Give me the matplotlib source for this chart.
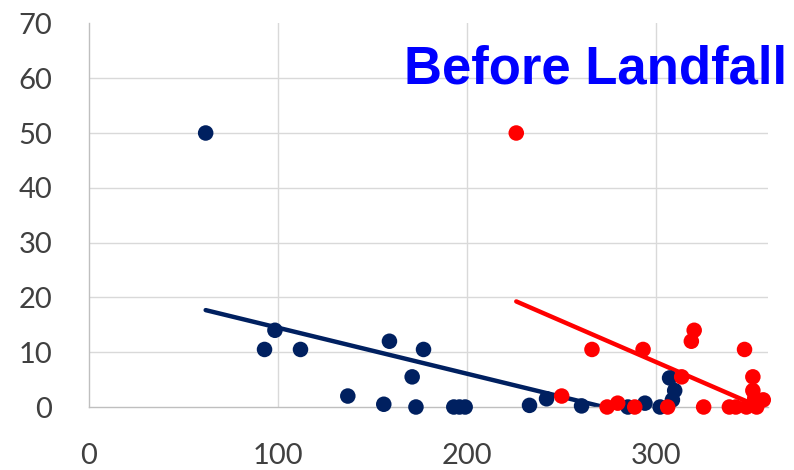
import numpy as np
import matplotlib
matplotlib.use("Agg")
import matplotlib.pyplot as plt

# Distance (x) vs. value (y) for the two groups of stations
navy_x = [61.9, 93, 98.5, 112, 137, 156, 159, 171, 173, 177, 193, 196, 199,
          233, 242, 260.5, 285, 294, 302, 307, 309.7, 308.5]
navy_y = [50, 10.5, 14, 10.5, 2, 0.5, 12, 5.5, 0, 10.5, 0, 0, 0,
          0.3, 1.5, 0.2, 0, 0.7, 0, 5.3, 3, 1.3]

red_x = [226, 250, 266, 274, 279.6, 288.6, 293, 306, 313.4, 318.5, 320, 325,
         338.6, 342, 346.6, 347.6, 351, 351, 352, 353, 356.5]
red_y = [50, 2, 10.5, 0, 0.7, 0, 10.5, 0, 5.5, 12, 14, 0,
         0, 0, 10.5, 0, 5.5, 3, 1.6, 0, 1.3]

x_ticks = [0, 100, 200, 300]
y_ticks = [0, 10, 20, 30, 40, 50, 60, 70]
title_text = "Before Landfall"

NAVY = "#002060"
RED = "#FF0000"

fig = plt.figure(figsize=(7.94, 4.70), dpi=100)
ax = fig.add_axes([88.5 / 794, 1 - 407 / 470, (768 - 88.5) / 794, (407 - 23.4) / 470])

for xs, ys, col in ((navy_x, navy_y, NAVY), (red_x, red_y, RED)):
    xs = np.asarray(xs, float)
    ys = np.asarray(ys, float)
    ax.scatter(xs, ys, s=125, color=col, edgecolors="none", zorder=3, clip_on=False)
    # linear trendline across the range of the data
    slope, icpt = np.polyfit(xs, ys, 1)
    tx = np.array([xs.min(), xs.max()])
    ax.plot(tx, slope * tx + icpt, color=col, lw=3.2, solid_capstyle="round", zorder=2)

ax.set_xlim(0, 359)
ax.set_ylim(0, 70)
ax.set_xticks(x_ticks)
ax.set_yticks(y_ticks)
ax.tick_params(length=0, labelsize=21, labelcolor="#404040")
ax.tick_params(axis="x", pad=26)
ax.tick_params(axis="y", pad=26)
for lab in ax.get_xticklabels() + ax.get_yticklabels():
    lab.set_family("Lato")

ax.grid(True, color="#D9D9D9", lw=1.0, zorder=0)
ax.set_axisbelow(True)
ax.get_ygridlines()[-1].set_visible(False)
ax.get_xgridlines()[0].set_visible(False)
ax.get_ygridlines()[0].set_visible(False)

for side in ("top", "right"):
    ax.spines[side].set_visible(False)
for side in ("left", "bottom"):
    ax.spines[side].set_color("#BFBFBF")
    ax.spines[side].set_linewidth(1.0)

fig.text(787 / 794, 1 - 83.3 / 470, title_text, ha="right", va="baseline",
         fontsize=38, fontweight="bold", color="#0000FF", family="Liberation Sans")

fig.savefig("out.png", dpi=100)
